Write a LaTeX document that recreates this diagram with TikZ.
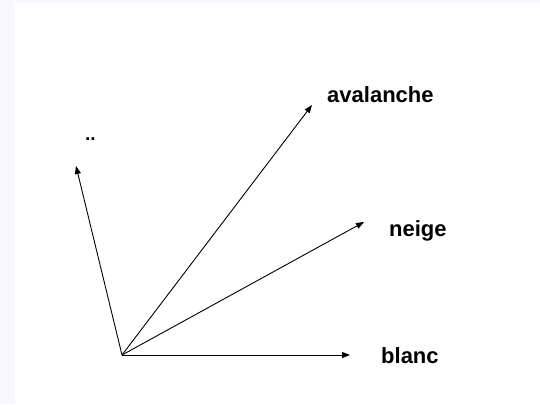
\documentclass[tikz,border=0pt]{standalone}
\usepackage{fontspec}
\setmainfont{Liberation Sans}
\usepackage{xcolor}
\usetikzlibrary{arrows.meta}
\definecolor{pageedge}{HTML}{F7F7FD}

\begin{document}
\begin{tikzpicture}[
  x=1pt, y=1pt,
  word/.style={font=\fontsize{22}{26}\selectfont\bfseries, inner sep=0pt, anchor=base west},
  arr/.style={-{Triangle[length=8pt,width=6pt]}, line width=0.9pt}
]
  \fill[pageedge] (0,0) rectangle (540,404);
  \fill[white] (15,0) rectangle (540,401);
  \useasboundingbox (0,0) rectangle (540,404);

  \coordinate (o) at (122,49);
  \coordinate (tdots) at (76,238);
  \coordinate (taval) at (312,299);
  \coordinate (tneige) at (364,182);
  \coordinate (tblanc) at (350,49);

  \node[word, font=\fontsize{19}{22}\selectfont\bfseries] (dots) at (85,263) {..};
  \node[word] (aval) at (327,301) {avalanche};
  \node[word] (neige) at (389,167) {neige};
  \node[word] (blanc) at (381,41) {blanc};

  \draw[arr] (o) -- (tdots);
  \draw[arr] (o) -- (taval);
  \draw[arr] (o) -- (tneige);
  \draw[arr] (o) -- (tblanc);
\end{tikzpicture}
\end{document}
